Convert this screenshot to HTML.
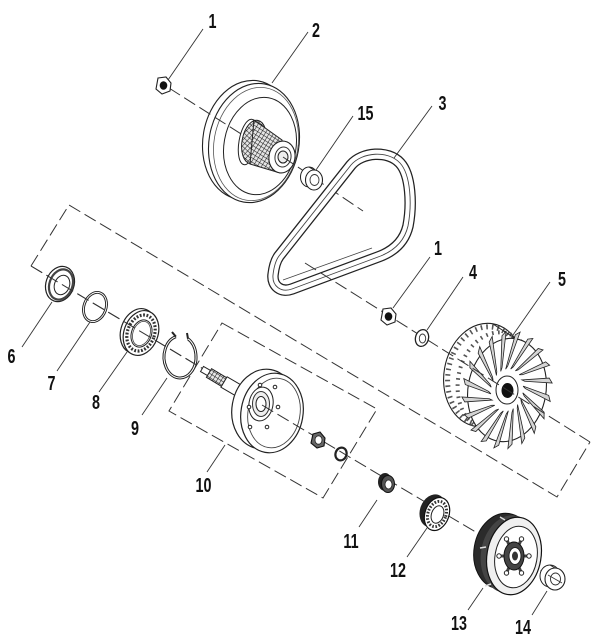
<!DOCTYPE html>
<html><head><meta charset="utf-8"><style>html,body{margin:0;padding:0;background:#fff;}svg{display:block}</style></head>
<body>
<svg width="606" height="637" viewBox="0 0 606 637" xmlns="http://www.w3.org/2000/svg">
<defs>
<pattern id="kn" width="3.6" height="3.6" patternUnits="userSpaceOnUse" patternTransform="rotate(32)">
<rect width="3.6" height="3.6" fill="#e6e6e6"/><path d="M0 0H3.6M0 0V3.6" stroke="#222" stroke-width="1.1"/></pattern>
<polygon id="bl" points="16,0 40.4,11.6 41.5,16.5 18,2.2" fill="#d4d4d4" stroke="#222" stroke-width="0.8" vector-effect="non-scaling-stroke"/>
</defs>
<rect width="606" height="637" fill="#fff"/>

<!-- big dashed frame & lower axis (left part) -->
<g fill="none" stroke="#333" stroke-width="1" stroke-dasharray="13 5">
<polyline points="31,266 69,205 557,497 590,442"/>
<polygon points="222,323 377,409 323,498 169,411"/>
<line x1="31" y1="266" x2="205" y2="370"/>
</g>

<!-- Pulley 2 -->
<ellipse cx="248" cy="140" rx="45" ry="60" transform="rotate(10 248 140)" fill="#fff" stroke="#222" stroke-width="1.1"/>
<ellipse cx="254" cy="143" rx="45" ry="60" transform="rotate(10 254 143)" fill="#fff" stroke="#222" stroke-width="1.1"/>
<ellipse cx="256" cy="144" rx="42" ry="57" transform="rotate(10 256 144)" fill="none" stroke="#555" stroke-width="0.8"/>
<ellipse cx="260" cy="146" rx="36" ry="49" transform="rotate(10 260 146)" fill="none" stroke="#222" stroke-width="1"/>
<line x1="169" y1="88" x2="260" y2="146" stroke="#333" stroke-width="1" stroke-dasharray="13 5"/>
<ellipse cx="248" cy="142" rx="9" ry="23" transform="rotate(10 248 142)" fill="#fff" stroke="#222" stroke-width="1"/>
<ellipse cx="254" cy="142" rx="12" ry="22" transform="rotate(10 254 142)" fill="url(#kn)" stroke="#222" stroke-width="1"/>
<path d="M254,120 L282,140 L280,173 L250,164 Z" fill="url(#kn)" stroke="#222" stroke-width="1"/>
<ellipse cx="282" cy="157" rx="13" ry="16" transform="rotate(10 282 157)" fill="#fff" stroke="#222" stroke-width="1.1"/>
<ellipse cx="283" cy="157" rx="8" ry="10" transform="rotate(10 283 157)" fill="#fff" stroke="#333" stroke-width="1"/>
<ellipse cx="283" cy="157" rx="5" ry="6" fill="#eee" stroke="#222" stroke-width="1"/>
<line x1="283" y1="157" x2="363" y2="211" stroke="#333" stroke-width="1" stroke-dasharray="13 5"/>

<!-- Nut 1 top -->
<polygon points="158,78 166,77 171,83 170,91 162,94 156,89" fill="#fff" stroke="#222" stroke-width="1.1"/>
<ellipse cx="163.5" cy="85.5" rx="3.8" ry="4.3" fill="#111"/>

<!-- 15 -->
<ellipse cx="309" cy="177" rx="8.5" ry="10" fill="#fff" stroke="#222" stroke-width="1"/>
<path d="M309,167 L314,170 M309,187 L314,190" stroke="#222" stroke-width="1"/>
<ellipse cx="314" cy="180" rx="8.5" ry="10" fill="#fff" stroke="#222" stroke-width="1.1"/>
<ellipse cx="314.5" cy="180" rx="4.5" ry="5.5" fill="none" stroke="#333" stroke-width="0.9"/>

<!-- Belt 3 -->
<path d="M279,256 L351,165 C362,152 388,150 400,163 C411,175 412,205 408,226 C404,243 392,252 378,257 L292,289 C281,293 272,286 273,275 C274,266 276,260 279,256 Z" fill="none" stroke="#222" stroke-width="11.5" stroke-linejoin="round"/>
<path d="M279,256 L351,165 C362,152 388,150 400,163 C411,175 412,205 408,226 C404,243 392,252 378,257 L292,289 C281,293 272,286 273,275 C274,266 276,260 279,256 Z" fill="none" stroke="#fff" stroke-width="9" stroke-linejoin="round"/>
<path d="M279,256 L351,165 C362,152 388,150 400,163 C411,175 412,205 408,226 C404,243 392,252 378,257 L292,289 C281,293 272,286 273,275 C274,266 276,260 279,256 Z" fill="none" stroke="#444" stroke-width="0.9"/>
<path d="M283,280 L372,248" stroke="#444" stroke-width="0.8"/>

<!-- Fan 5 -->
<ellipse cx="484" cy="375" rx="40" ry="52" transform="rotate(10 484 375)" fill="#fff" stroke="#222" stroke-width="1.1"/>
<ellipse cx="485" cy="375.5" rx="37" ry="49" transform="rotate(10 485 375.5)" fill="none" stroke="#555" stroke-width="5" stroke-dasharray="1.6 4"/>
<ellipse cx="496" cy="382" rx="38" ry="50" transform="rotate(10 496 382)" fill="none" stroke="#555" stroke-width="4" stroke-dasharray="1.6 4.5"/>
<line x1="493" y1="324" x2="516" y2="339" stroke="#222" stroke-width="1"/>
<line x1="475" y1="426" x2="498" y2="441" stroke="#222" stroke-width="1"/>
<ellipse cx="507" cy="390" rx="39" ry="52" transform="rotate(10 507 390)" fill="#fff" stroke="#222" stroke-width="1.1"/>
<g transform="translate(507,390) rotate(10) scale(1,1.33)">
<use href="#bl"/><use href="#bl" transform="rotate(18)"/><use href="#bl" transform="rotate(36)"/><use href="#bl" transform="rotate(54)"/><use href="#bl" transform="rotate(72)"/><use href="#bl" transform="rotate(90)"/><use href="#bl" transform="rotate(108)"/><use href="#bl" transform="rotate(126)"/><use href="#bl" transform="rotate(144)"/><use href="#bl" transform="rotate(162)"/><use href="#bl" transform="rotate(180)"/><use href="#bl" transform="rotate(198)"/><use href="#bl" transform="rotate(216)"/><use href="#bl" transform="rotate(234)"/><use href="#bl" transform="rotate(252)"/><use href="#bl" transform="rotate(270)"/><use href="#bl" transform="rotate(288)"/><use href="#bl" transform="rotate(306)"/><use href="#bl" transform="rotate(324)"/><use href="#bl" transform="rotate(342)"/>
</g>
<ellipse cx="507" cy="390" rx="11" ry="14" fill="#fff" stroke="#222" stroke-width="1"/>
<ellipse cx="507.5" cy="390.5" rx="6" ry="7.5" fill="#111"/>
<line x1="305" y1="263" x2="590" y2="442" stroke="#333" stroke-width="1" stroke-dasharray="13 5"/>

<!-- Nut 1 lower & washer 4 -->
<polygon points="383,309 391,308 396,314 395,322 387,325 381,320" fill="#fff" stroke="#222" stroke-width="1.1"/>
<ellipse cx="388.5" cy="316.5" rx="3.8" ry="4.3" fill="#111"/>
<ellipse cx="422" cy="338" rx="6.5" ry="8.5" transform="rotate(15 422 338)" fill="#fff" stroke="#222" stroke-width="1.3"/>
<ellipse cx="422.5" cy="338.5" rx="3.2" ry="4.5" fill="#fff" stroke="#333" stroke-width="0.9"/>

<!-- 6 -->
<ellipse cx="60" cy="284" rx="14" ry="18" transform="rotate(20 60 284)" fill="#fff" stroke="#222" stroke-width="1.2"/>
<ellipse cx="61" cy="284.5" rx="11.5" ry="15.5" transform="rotate(20 61 284.5)" fill="none" stroke="#444" stroke-width="2.2"/>
<ellipse cx="62" cy="285" rx="7.5" ry="10" transform="rotate(20 62 285)" fill="#fff" stroke="#222" stroke-width="1"/>
<!-- 7 -->
<ellipse cx="95" cy="307" rx="11" ry="15" transform="rotate(20 95 307)" fill="none" stroke="#222" stroke-width="2.8"/>
<ellipse cx="95" cy="307" rx="11" ry="15" transform="rotate(20 95 307)" fill="none" stroke="#fff" stroke-width="0.9"/>
<!-- 8 -->
<ellipse cx="138" cy="331" rx="17" ry="23" transform="rotate(20 138 331)" fill="#fff" stroke="#222" stroke-width="1.2"/>
<ellipse cx="141" cy="333" rx="17" ry="23" transform="rotate(20 141 333)" fill="#fff" stroke="#222" stroke-width="1.2"/>
<ellipse cx="141" cy="333" rx="13.5" ry="18.5" transform="rotate(20 141 333)" fill="none" stroke="#333" stroke-width="3.2" stroke-dasharray="1.8 1.6"/>
<ellipse cx="141.5" cy="333.5" rx="10" ry="14" transform="rotate(20 141.5 333.5)" fill="#fff" stroke="#222" stroke-width="1"/>
<ellipse cx="141.5" cy="333.5" rx="8.5" ry="12.5" transform="rotate(20 141.5 333.5)" fill="none" stroke="#444" stroke-width="0.8"/>
<!-- 9 circlip -->
<path d="M188,338.8 A16 21 0 1 1 175.9,336.7" fill="none" stroke="#222" stroke-width="3"/>
<path d="M188,338.8 A16 21 0 1 1 175.9,336.7" fill="none" stroke="#fff" stroke-width="1"/>
<path d="M175.9,336.7 L172,332 M188,338.8 L187,333" stroke="#222" stroke-width="2"/>
<line x1="31" y1="266" x2="205" y2="370" stroke="#333" stroke-width="1" stroke-dasharray="13 5"/>

<!-- Shaft / disc 10 -->
<polygon points="200.5,371.6 203.5,366.4 210.5,370.4 207.5,375.6" fill="#fff" stroke="#222" stroke-width="1"/>
<polygon points="206.4,377.3 211.6,368.7 226.6,377.7 221.4,386.3" fill="url(#kn)" stroke="#222" stroke-width="1"/>
<polygon points="220.9,387.2 227.1,376.8 251.1,390.8 244.9,401.2" fill="#fff" stroke="#222" stroke-width="1"/>
<ellipse cx="264" cy="409" rx="32" ry="40" transform="rotate(10 264 409)" fill="#fff" stroke="#222" stroke-width="1.2"/>
<ellipse cx="272" cy="413" rx="31" ry="40" transform="rotate(10 272 413)" fill="#fff" stroke="#222" stroke-width="1.2"/>
<ellipse cx="274" cy="413" rx="26" ry="35" transform="rotate(10 274 413)" fill="none" stroke="#444" stroke-width="0.9"/>
<ellipse cx="261" cy="404" rx="12" ry="17" transform="rotate(10 261 404)" fill="#fff" stroke="#222" stroke-width="1"/>
<ellipse cx="261" cy="404" rx="8.5" ry="12.5" fill="#eee" stroke="#333" stroke-width="1"/>
<ellipse cx="261" cy="404" rx="5" ry="7.5" fill="#fff" stroke="#222" stroke-width="1"/>
<g fill="#fff" stroke="#222" stroke-width="1">
<circle cx="250" cy="427" r="1.8"/><circle cx="267" cy="427" r="1.8"/><circle cx="278" cy="407" r="1.8"/><circle cx="275" cy="387" r="1.8"/><circle cx="260" cy="385" r="1.8"/><circle cx="249" cy="407" r="1.8"/>
</g>
<line x1="262" y1="405" x2="553" y2="578" stroke="#333" stroke-width="1" stroke-dasharray="13 5"/>
<!-- nut & ring of 10 -->
<polygon points="313,434 320,432 325,438 324,446 317,448 311,443" fill="#666" stroke="#111" stroke-width="1.1"/>
<ellipse cx="318.5" cy="440" rx="3.5" ry="4.2" fill="#fff" stroke="#222" stroke-width="0.8"/>
<ellipse cx="341" cy="454" rx="5.5" ry="6.5" transform="rotate(20 341 454)" fill="none" stroke="#222" stroke-width="2.2"/>

<!-- 11 -->
<ellipse cx="385" cy="482" rx="7" ry="9" fill="#222"/>
<ellipse cx="388" cy="484" rx="6.5" ry="8.5" fill="#555" stroke="#111" stroke-width="1"/>
<ellipse cx="388.5" cy="484.5" rx="3.5" ry="4.5" fill="#fff" stroke="#222" stroke-width="0.8"/>
<!-- 12 -->
<ellipse cx="433" cy="511" rx="13" ry="17" transform="rotate(20 433 511)" fill="#222"/>
<ellipse cx="437" cy="514" rx="12" ry="17" transform="rotate(20 437 514)" fill="#fff" stroke="#111" stroke-width="1.2"/>
<ellipse cx="437" cy="514" rx="9" ry="13" transform="rotate(20 437 514)" fill="none" stroke="#333" stroke-width="3" stroke-dasharray="1.6 1.6"/>
<ellipse cx="437.5" cy="514.5" rx="6" ry="9" transform="rotate(20 437.5 514.5)" fill="#fff" stroke="#222" stroke-width="1"/>

<!-- 13 clutch -->
<ellipse cx="503" cy="551" rx="29" ry="38" transform="rotate(10 503 551)" fill="#2b2b2b" stroke="#111" stroke-width="1"/>
<ellipse cx="509" cy="554" rx="28" ry="39" transform="rotate(10 509 554)" fill="#444"/>
<path d="M480,548 L486,547 M485,586 L491,584 M500,517 L505,520" stroke="#ddd" stroke-width="1.5"/>
<ellipse cx="514" cy="556" rx="27" ry="39" transform="rotate(10 514 556)" fill="#f0f0f0" stroke="#111" stroke-width="1.2"/>
<ellipse cx="516" cy="557" rx="21" ry="31" transform="rotate(10 516 557)" fill="#fff" stroke="#222" stroke-width="1"/>
<g stroke="#444" stroke-width="3">
<line x1="514" y1="556" x2="529" y2="556"/><line x1="514" y1="556" x2="521.5" y2="573"/><line x1="514" y1="556" x2="506.5" y2="573"/><line x1="514" y1="556" x2="499" y2="556"/><line x1="514" y1="556" x2="506.5" y2="539"/><line x1="514" y1="556" x2="521.5" y2="539"/>
</g>
<g fill="#fff" stroke="#222" stroke-width="1">
<circle cx="529" cy="556" r="2.2"/><circle cx="521.5" cy="573" r="2.2"/><circle cx="506.5" cy="573" r="2.2"/><circle cx="499" cy="556" r="2.2"/><circle cx="506.5" cy="539" r="2.2"/><circle cx="521.5" cy="539" r="2.2"/>
</g>
<ellipse cx="514" cy="556" rx="10" ry="14" fill="#444" stroke="#111" stroke-width="1"/>
<ellipse cx="515" cy="556" rx="6" ry="8.5" fill="#fff" stroke="#222" stroke-width="1"/>
<ellipse cx="515" cy="556" rx="3" ry="4.5" fill="#333"/>

<!-- 14 -->
<ellipse cx="550" cy="576" rx="10" ry="11" fill="#fff" stroke="#222" stroke-width="1"/>
<path d="M550,565 L555,568 M550,587 L555,590" stroke="#222" stroke-width="1"/>
<ellipse cx="555" cy="579" rx="10" ry="11" fill="#fff" stroke="#222" stroke-width="1.1"/>
<ellipse cx="555.5" cy="579" rx="5" ry="6" fill="none" stroke="#333" stroke-width="0.9"/>
<line x1="548" y1="575" x2="562" y2="583" stroke="#333" stroke-width="0.8"/>

<!-- leader lines -->
<g stroke="#333" stroke-width="0.9">
<line x1="203" y1="29" x2="168" y2="80"/>
<line x1="308" y1="32" x2="272" y2="83"/>
<line x1="353" y1="116" x2="316" y2="170"/>
<line x1="432" y1="106" x2="394" y2="158"/>
<line x1="430" y1="257" x2="393" y2="308"/>
<line x1="463" y1="277" x2="427" y2="330"/>
<line x1="550" y1="282" x2="513" y2="335"/>
<line x1="22" y1="347" x2="52" y2="302"/>
<line x1="57" y1="371" x2="90" y2="322"/>
<line x1="99" y1="392" x2="127" y2="352"/>
<line x1="142" y1="415" x2="167" y2="378"/>
<line x1="207" y1="472" x2="225" y2="445"/>
<line x1="359" y1="527" x2="377" y2="500"/>
<line x1="407" y1="557" x2="427" y2="528"/>
<line x1="468" y1="610" x2="483" y2="588"/>
<line x1="532" y1="615" x2="547" y2="591"/>
</g>

<!-- labels -->
<g font-family="'Liberation Sans', sans-serif" font-weight="bold" font-size="20.5" fill="#111" text-anchor="middle">
<text transform="translate(212.5,28) scale(0.7,1)">1</text>
<text transform="translate(316,37) scale(0.7,1)">2</text>
<text transform="translate(365.5,120) scale(0.7,1)">15</text>
<text transform="translate(442.5,110) scale(0.7,1)">3</text>
<text transform="translate(438,255) scale(0.7,1)">1</text>
<text transform="translate(473,279) scale(0.7,1)">4</text>
<text transform="translate(562,286) scale(0.7,1)">5</text>
<text transform="translate(11.5,363) scale(0.7,1)">6</text>
<text transform="translate(51.5,390) scale(0.7,1)">7</text>
<text transform="translate(96,409) scale(0.7,1)">8</text>
<text transform="translate(135,435) scale(0.7,1)">9</text>
<text transform="translate(203.5,492) scale(0.7,1)">10</text>
<text transform="translate(351,548) scale(0.7,1)">11</text>
<text transform="translate(398,577) scale(0.7,1)">12</text>
<text transform="translate(459,630) scale(0.7,1)">13</text>
<text transform="translate(523,634) scale(0.7,1)">14</text>
</g>
</svg>
</body></html>
